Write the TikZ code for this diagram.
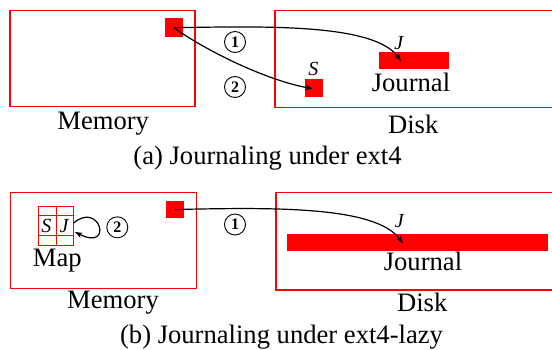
\documentclass[tikz,border=0pt]{standalone}
\usepackage{fontspec}
\setmainfont{Liberation Serif}
\usetikzlibrary{arrows.meta}
\begin{document}
\begin{tikzpicture}[x=1pt,y=-1pt,
 box/.style={draw=red, line width=1.4pt, inner sep=0pt, outer sep=0pt},
 blk/.style={fill=red, inner sep=0pt, outer sep=0pt},
 lbl/.style={font=\fontsize{26.6}{30}\selectfont, anchor=base, inner sep=0pt},
 itl/.style={font=\fontsize{20}{22}\selectfont\itshape, inner sep=0pt},
 num/.style={circle, draw, line width=0.9pt, inner sep=0pt, minimum size=21pt, font=\fontsize{16}{16}\selectfont\bfseries},
 arr/.style={-{Stealth[length=7.5pt,width=5.5pt]}, line width=1.2pt},
 gridln/.style={draw=red, line width=1pt},
]
\clip (0,0) rectangle (552,350);
% ---------- (a) ----------
\node[box, minimum width=185, minimum height=96] (mem) at (102.5,58.5) {};
\node[blk, minimum width=18, minimum height=18.5] (msq) at (174,27.75) {};
\node[box, minimum width=290, minimum height=97] (disk) at (420,59) {};
\node[blk, minimum width=70, minimum height=16.7] (jbar) at (414.3,60.7) {};
\node[blk, minimum size=18.3] (ssq) at (314.2,88.2) {};
\node[itl] (slbl) at (313.3,69) {S};
\node[itl] (jlbl) at (398.7,43) {J};
\node[lbl] (jtxt) at (411,91.5) {Journal};
\node[lbl] (memlbl) at (103.2,129.3) {Memory};
\node[lbl] (disklbl) at (413.2,133.3) {Disk};
\node[lbl] (capa) at (267.5,164.3) {(a) Journaling under ext4};
\node[num] (c1) at (235,42) {1};
\node[num] (c2) at (235,87) {2};
\coordinate (jt) at (401,61);
\coordinate (st) at (312.7,88.7);
\draw[arr] (msq.center) .. controls (270,26) and (375,24) .. (jt);
\draw[arr] (msq.center) .. controls (205,50) and (265,80) .. (st);
% ---------- (b) ----------
\node[box, minimum width=186, minimum height=96] (mem2) at (103.7,240.3) {};
\node[blk, minimum width=18.3, minimum height=17.6] (msq2) at (175.2,209.5) {};
\draw[gridln] (38.3,206.7) rectangle (73.3,245.7);
\draw[gridln] (56,206.7) -- (56,245.7);
\draw[gridln] (38.3,215.7) -- (73.3,215.7);
\draw[gridln] (38.3,235) -- (73.3,235);
\node[itl] (s2) at (46.5,226.3) {S};
\node[itl] (j2) at (64,226.3) {J};
\coordinate (ls) at (73.3,223.3);
\coordinate (le) at (75,232);
\draw[arr] (ls) .. controls (100,200) and (114,252) .. (le);
\node[num] (c2b) at (117.3,227.3) {2};
\node[lbl] (maplbl) at (57.3,266.7) {Map};
\node[lbl] (mem2lbl) at (113,308.3) {Memory};
\node[num] (c1b) at (235,224.5) {1};
\node[box, minimum width=290, minimum height=97.7] (disk2) at (421,241.15) {};
\node[blk, minimum width=261, minimum height=16.4] (jbar2) at (417.5,242.5) {};
\node[itl] (jlbl2) at (399.3,221) {J};
\node[lbl] (jtxt2) at (423,270) {Journal};
\node[lbl] (disk2lbl) at (422.2,311.7) {Disk};
\node[lbl] (capb) at (281.5,343.3) {(b) Journaling under ext4-lazy};
\coordinate (jt2) at (402.7,243.3);
\draw[arr] (msq2.center) .. controls (271,207.5) and (376,205.5) .. (jt2);
\end{tikzpicture}
\end{document}
